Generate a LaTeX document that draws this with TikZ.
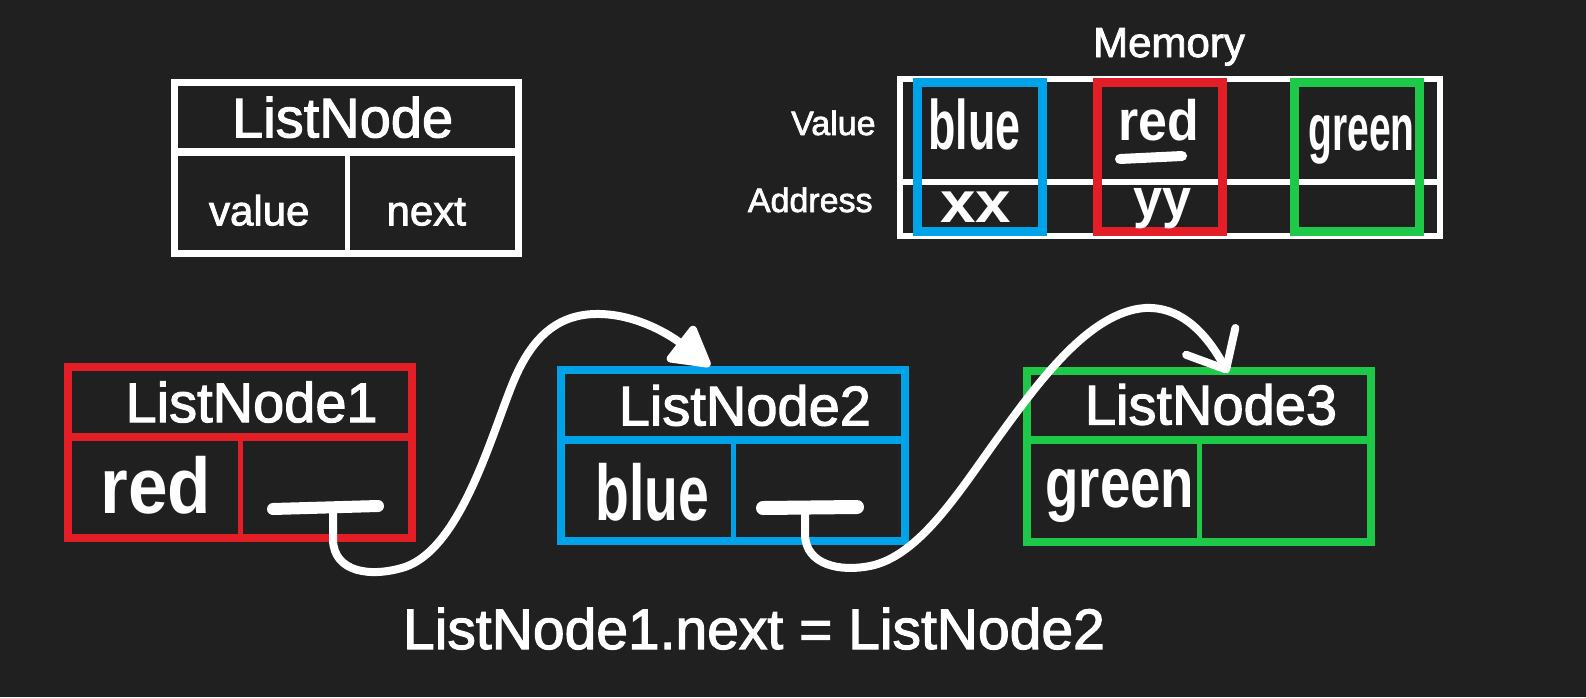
\documentclass[tikz,border=0pt]{standalone}
\usepackage{fontspec}
\setmainfont{Liberation Sans}
\newfontfamily\txtfont{Liberation Sans}[FakeBold=2]
\usepackage{graphicx}
\usetikzlibrary{arrows.meta,calc}
\definecolor{bg}{RGB}{32,32,32}
\definecolor{nred}{RGB}{228,30,38}
\definecolor{nblue}{RGB}{0,162,232}
\definecolor{ngreen}{RGB}{30,200,72}
\newcommand\fsz[1]{\fontsize{#1}{#1}\selectfont}
\newcommand\hand[3]{\scalebox{#2}[1]{\fsz{#1}\bfseries #3}}
\begin{document}
\begin{tikzpicture}[x=0.5pt,y=-0.5pt,
  lnbox/.style={draw=#1, line width=4pt, minimum width=172pt, minimum height=85.5pt, inner sep=0pt, outer sep=0pt},
  hdiv/.style={draw=#1, line width=4pt},
  vdiv/.style={draw=#1, line width=2.5pt},
  title/.style={text=white, anchor=base west, inner sep=0pt, font={\txtfont\fsz{28pt}}},
  lbl/.style={text=white, anchor=base, inner sep=0pt, font={\txtfont\fsz{21pt}}},
  side/.style={text=white, anchor=base east, inner sep=0pt, font={\txtfont\fsz{17pt}}},
  hw/.style={text=white, anchor=base west, inner sep=0pt},
  memcell/.style={draw=#1, line width=4.5pt, minimum width=62.5pt, minimum height=74.5pt, inner sep=0pt, outer sep=0pt},
  ptr/.style={draw=white, line width=4pt, line cap=round, line join=round},
  bar/.style={draw=white, line width=6pt, line cap=round},
]
\fill[bg] (0,0) rectangle (1586,697);
\useasboundingbox (0,0) rectangle (1586,697);

% template
\node[lnbox=white, line width=3.5pt] (tpl) at (346.25,167.85) {};
\draw[hdiv=white] ($(tpl.north west)+(0,69.7)$) -- ($(tpl.north east)+(0,69.7)$);
\draw[vdiv=white] ($(tpl.north)+(1,69.7)$) -- ($(tpl.south)+(1,0)$);
\node[title] (tplT) at ($(tpl.north west)+(57.5,55)$) {ListNode};
\node[lbl] (tplV) at ($(tpl.north west)+(85,143)$) {value};
\node[lbl] (tplN) at ($(tpl.north west)+(252,143)$) {next};

% memory
\node[text=white, anchor=base, inner sep=0pt, font={\txtfont\fsz{21pt}}] (memT) at (1169,57) {Memory};
\node[draw=white, line width=3pt, minimum width=270pt, minimum height=78.5pt, inner sep=0pt, outer sep=0pt] (mem) at (1170,157.5) {};
\draw[draw=white, line width=3pt] (mem.west |- 0,182) -- (mem.east |- 0,182);
\node[memcell=nblue] (mcb) at (979.5,156.5) {};
\node[memcell=nred] (mcr) at (1160,156.5) {};
\node[memcell=ngreen] (mcg) at (1356.5,156.5) {};
\node[side] (mval) at (876,135) {Value};
\node[side] (madr) at (873,212) {Address};
\node[hw] (mb) at (928,149) {\hand{35pt}{0.64}{blue}};
\node[hw] (mr) at (1118,140) {\hand{28.5pt}{0.91}{red}};
\draw[bar, line width=5pt] (1120,159) -- (1182,156);
\node[hw] (mg) at (1308,150) {\hand{32.5pt}{0.6}{green}};
\node[hw] (mx) at (940,222) {\hand{29pt}{1.1}{xx}};
\node[hw] (my) at (1133,217) {\hand{27.5pt}{0.95}{yy}};

% list nodes
\node[lnbox=nred] (n1) at (239.65,452.6) {};
\node[lnbox=nblue] (n2) at (732.9,455.9) {};
\node[lnbox=ngreen] (n3) at (1199,456) {};
\foreach \n/\c in {n1/nred,n2/nblue,n3/ngreen}{
  \draw[hdiv=\c] ($(\n.north west)+(0,69.5)$) -- ($(\n.north east)+(0,69.5)$);
  \draw[vdiv=\c] ($(\n.north)+(0.5,69.5)$) -- ($(\n.south)+(0.5,0)$);
}
\node[title] (n1T) at ($(n1.north west)+(57.5,55)$) {ListNode1};
\node[title] (n2T) at ($(n2.north west)+(57.5,55)$) {ListNode2};
\node[title] (n3T) at ($(n3.north west)+(57.5,54)$) {ListNode3};
\node[hw] (n1v) at (100,513) {\hand{39.5pt}{0.9}{red}};
\node[hw] (n2v) at (595,520) {\hand{39.5pt}{0.7}{blue}};
\node[hw] (n3v) at (1045,507) {\hand{35.5pt}{0.77}{green}};

% pointers
\coordinate (p1) at (333,508);
\coordinate (n2in) at (710,366);
\coordinate (p2) at (805,507);
\coordinate (n3in) at (1228,373);
\draw[bar] (273,509) -- (378,506);
\draw[bar, line width=7pt] (763,508) -- (857,507);
\draw[ptr, -{Triangle[length=22pt,width=24pt,round]}] (p1) -- (333,540)
  .. controls (334,572) and (370,578) .. (405,567)
  .. controls (460,548) and (490,440) .. (512,385)
  .. controls (530,340) and (555,315) .. (595,314)
  .. controls (635,313) and (670,335) .. (n2in);
\draw[ptr, -{Straight Barb[length=16pt,width=28pt,round]}] (p2) -- (805,535)
  .. controls (806,565) and (840,572) .. (870,566)
  .. controls (920,556) and (960,490) .. (1000,435)
  .. controls (1040,380) and (1090,312) .. (1145,308)
  .. controls (1185,306) and (1210,340) .. (n3in);

\node[text=white, anchor=base, inner sep=0pt, font={\txtfont\fsz{28.5pt}}] (eq) at (754,649) {ListNode1.next = ListNode2};
\end{tikzpicture}
\end{document}
